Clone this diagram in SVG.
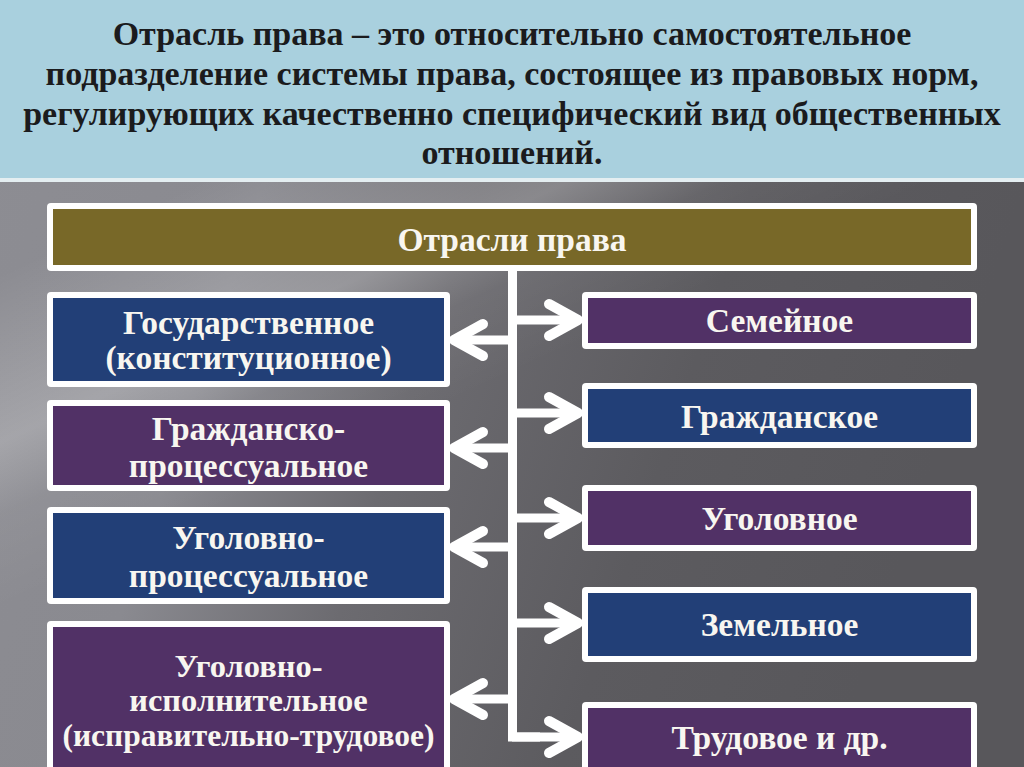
<svg xmlns="http://www.w3.org/2000/svg" width="1024" height="767" viewBox="0 0 1024 767">
  <defs>
    <linearGradient id="bg" x1="0" y1="0" x2="1" y2="0.25">
      <stop offset="0" stop-color="#8d8d93"/>
      <stop offset="0.3" stop-color="#8a8a90"/>
      <stop offset="0.5" stop-color="#6c6b70"/>
      <stop offset="0.75" stop-color="#5c5b5f"/>
      <stop offset="1" stop-color="#58575b"/>
    </linearGradient>
    <linearGradient id="streak" x1="0.2" y1="0" x2="0.6" y2="0.5">
      <stop offset="0" stop-color="#ffffff" stop-opacity="0"/>
      <stop offset="0.35" stop-color="#ffffff" stop-opacity="0.22"/>
      <stop offset="0.5" stop-color="#ffffff" stop-opacity="0.05"/>
      <stop offset="0.7" stop-color="#ffffff" stop-opacity="0"/>
    </linearGradient>
    <marker id="chev" markerUnits="userSpaceOnUse" viewBox="-40 -25 50 50" markerWidth="50" markerHeight="50" refX="0" refY="0" orient="auto" overflow="visible">
      <path d="M-29,-16 L0,0 L-29,16" fill="none" stroke="#ffffff" stroke-width="10" stroke-linecap="round" stroke-linejoin="round"/>
    </marker>
    <style>
      .hdr { font-family: "Liberation Serif", "Times New Roman", serif; font-weight: bold; font-size: 34px; fill: #1b1b1d; text-anchor: middle; }
      .lbl { font-family: "Liberation Serif", "Times New Roman", serif; font-weight: bold; font-size: 33.5px; fill: #f8f6f0; text-anchor: middle; }
      .frame { fill: #ffffff; }
      .olive { fill: #786828; }
      .purple { fill: #513166; }
      .blue { fill: #223f77; }
      .conn { fill: none; stroke: #ffffff; stroke-width: 9; }
      .arr { fill: none; stroke: #ffffff; stroke-width: 9; marker-end: url(#chev); }
    </style>
  </defs>

  <rect x="0" y="0" width="1024" height="767" fill="url(#bg)"/>
  <rect x="0" y="180" width="1024" height="587" fill="url(#streak)"/>

  <g id="header">
    <rect x="0" y="0" width="1024" height="178" fill="#a9d0de"/>
    <rect x="0" y="178" width="1024" height="4" fill="#e4eef1"/>
    <text class="hdr" x="512" y="45">Отрасль права – это относительно самостоятельное</text>
    <text class="hdr" x="512" y="85">подразделение системы права, состоящее из правовых норм,</text>
    <text class="hdr" x="512" y="125">регулирующих качественно специфический вид общественных</text>
    <text class="hdr" x="512" y="164">отношений.</text>
  </g>

  <g id="connectors">
    <path class="conn" d="M512.5,270 V737 H540"/>
    <path class="arr" d="M512,737 H578"/>
    <path class="arr" d="M512,320 H578"/>
    <path class="arr" d="M512,413 H578"/>
    <path class="arr" d="M512,518 H578"/>
    <path class="arr" d="M512,623 H578"/>
    <path class="arr" d="M513,340 H454"/>
    <path class="arr" d="M513,448 H454"/>
    <path class="arr" d="M513,547 H454"/>
    <path class="arr" d="M513,699 H454"/>
  </g>

  <g id="root">
    <rect class="frame" x="47" y="203" width="930" height="68" rx="4"/>
    <rect class="olive" x="53" y="209" width="918" height="56"/>
    <text class="lbl" x="512" y="251">Отрасли права</text>
  </g>

  <g id="gos">
    <rect class="frame" x="47" y="292" width="403" height="95" rx="4"/>
    <rect class="blue" x="53" y="298" width="391" height="83"/>
    <text class="lbl" x="248.5" y="334">Государственное</text>
    <text class="lbl" x="248.5" y="369">(конституционное)</text>
  </g>

  <g id="grazhd-proc">
    <rect class="frame" x="47" y="400" width="403" height="91" rx="4"/>
    <rect class="purple" x="53" y="406" width="391" height="79"/>
    <text class="lbl" x="248.5" y="440">Гражданско-</text>
    <text class="lbl" x="248.5" y="477">процессуальное</text>
  </g>

  <g id="ugol-proc">
    <rect class="frame" x="47" y="507" width="403" height="97" rx="4"/>
    <rect class="blue" x="53" y="513" width="391" height="85"/>
    <text class="lbl" x="248.5" y="549">Уголовно-</text>
    <text class="lbl" x="248.5" y="587">процессуальное</text>
  </g>

  <g id="ugol-isp">
    <rect class="frame" x="47" y="621" width="403" height="160" rx="4"/>
    <rect class="purple" x="53" y="627" width="391" height="150"/>
    <text class="lbl" x="248.5" y="677" style="font-size:32.5px">Уголовно-</text>
    <text class="lbl" x="248.5" y="711" style="font-size:32.5px">исполнительное</text>
    <text class="lbl" x="248.5" y="746" style="font-size:31.5px">(исправительно-трудовое)</text>
  </g>

  <g id="semeynoe">
    <rect class="frame" x="582" y="292" width="395" height="57" rx="4"/>
    <rect class="purple" x="588" y="298" width="383" height="45"/>
    <text class="lbl" x="779.5" y="332">Семейное</text>
  </g>

  <g id="grazhdanskoe">
    <rect class="frame" x="582" y="383" width="395" height="65" rx="4"/>
    <rect class="blue" x="588" y="389" width="383" height="53"/>
    <text class="lbl" x="779.5" y="428">Гражданское</text>
  </g>

  <g id="ugolovnoe">
    <rect class="frame" x="582" y="485" width="395" height="66" rx="4"/>
    <rect class="purple" x="588" y="491" width="383" height="54"/>
    <text class="lbl" x="779.5" y="530">Уголовное</text>
  </g>

  <g id="zemelnoe">
    <rect class="frame" x="582" y="587" width="395" height="75" rx="4"/>
    <rect class="blue" x="588" y="593" width="383" height="63"/>
    <text class="lbl" x="779.5" y="636">Земельное</text>
  </g>

  <g id="trudovoe">
    <rect class="frame" x="582" y="702" width="395" height="80" rx="4"/>
    <rect class="purple" x="588" y="708" width="383" height="70"/>
    <text class="lbl" x="779.5" y="749">Трудовое и др.</text>
  </g>
</svg>
